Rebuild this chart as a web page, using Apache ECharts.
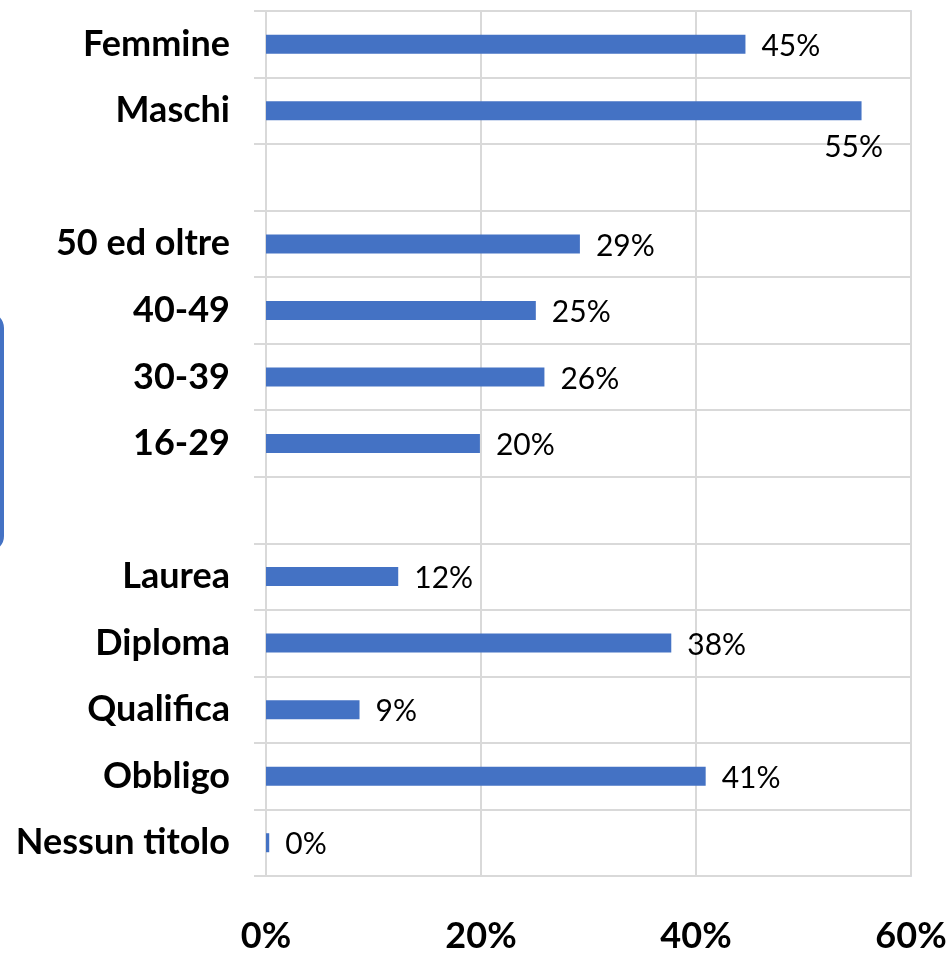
<!DOCTYPE html>
<html>
<head>
<meta charset="utf-8">
<script src="https://cdn.jsdelivr.net/npm/echarts@6/dist/echarts.min.js"></script>
<style>
  html, body { margin: 0; padding: 0; background: #fff; }
  #chart { width: 952px; height: 954px; }
</style>
</head>
<body>
<div id="chart"></div>
<script>
// categorie dall'alto verso il basso (le righe vuote separano i gruppi)
var categories = ["Femmine", "Maschi", " ", "50 ed oltre", "40-49", "30-39", "16-29", "  ",
                  "Laurea", "Diploma", "Qualifica", "Obbligo", "Nessun titolo"];
var values = [44.6, 55.4, null, 29.2, 25.1, 25.9, 19.9, null, 12.3, 37.7, 8.7, 40.9, 0.3];
var xTicks = [0, 20, 40, 60];

var font = "Lato, 'Noto Sans', sans-serif";
var myChart = echarts.init(document.getElementById('chart'));

var seriesData = values.map(function (v, i) {
    if (v === null) return '-';
    var item = { value: v };
    // etichetta "55%" spinta sotto la barra, come nell'originale
    if (categories[i] === "Maschi") {
        item.label = { position: ['100%', '100%'], align: 'center', verticalAlign: 'middle', offset: [-8, 27] };
    }
    return item;
});

var option = {
    animation: false,
    grid: {
        left: 266, right: 41, top: 11, bottom: 77,
        show: true,
        borderColor: '#b8c2d6',
        borderWidth: 1.5
    },
    xAxis: {
        type: 'value',
        min: xTicks[0],
        max: xTicks[xTicks.length - 1],
        interval: 20,
        axisLine: { show: false },
        axisTick: { show: false },
        splitLine: { lineStyle: { color: '#d9d9d9', width: 2 } },
        axisLabel: {
            margin: 42,
            color: '#000',
            fontFamily: font,
            fontWeight: 'bold',
            fontSize: 36,
            formatter: '{value}%'
        }
    },
    yAxis: {
        type: 'category',
        inverse: true,
        data: categories,
        axisLine: { show: true, lineStyle: { color: '#d9d9d9', width: 2 } },
        axisTick: { show: true, length: 12, lineStyle: { color: '#d9d9d9', width: 2 } },
        splitLine: { show: true, lineStyle: { color: '#d9d9d9', width: 2 } },
        axisLabel: {
            margin: 36,
            color: '#000',
            fontFamily: font,
            fontWeight: 'bold',
            fontSize: 36
        }
    },
    series: [{
        type: 'bar',
        data: seriesData,
        barWidth: 19,
        itemStyle: { color: '#4472c4' },
        label: {
            show: true,
            position: 'right',
            distance: 16,
            offset: [0, 2],
            color: '#000',
            fontFamily: font,
            fontSize: 30,
            formatter: function (p) { return Math.round(p.value) + '%'; }
        }
    }],
    graphic: [{
        type: 'rect',
        shape: { x: -40, y: 314, width: 42, height: 236, r: 14 },
        style: { fill: 'none', stroke: '#4472c4', lineWidth: 4 }
    }]
};

myChart.setOption(option);
window.addEventListener("resize", function () {
    myChart.resize();
});
</script>
</body>
</html>
